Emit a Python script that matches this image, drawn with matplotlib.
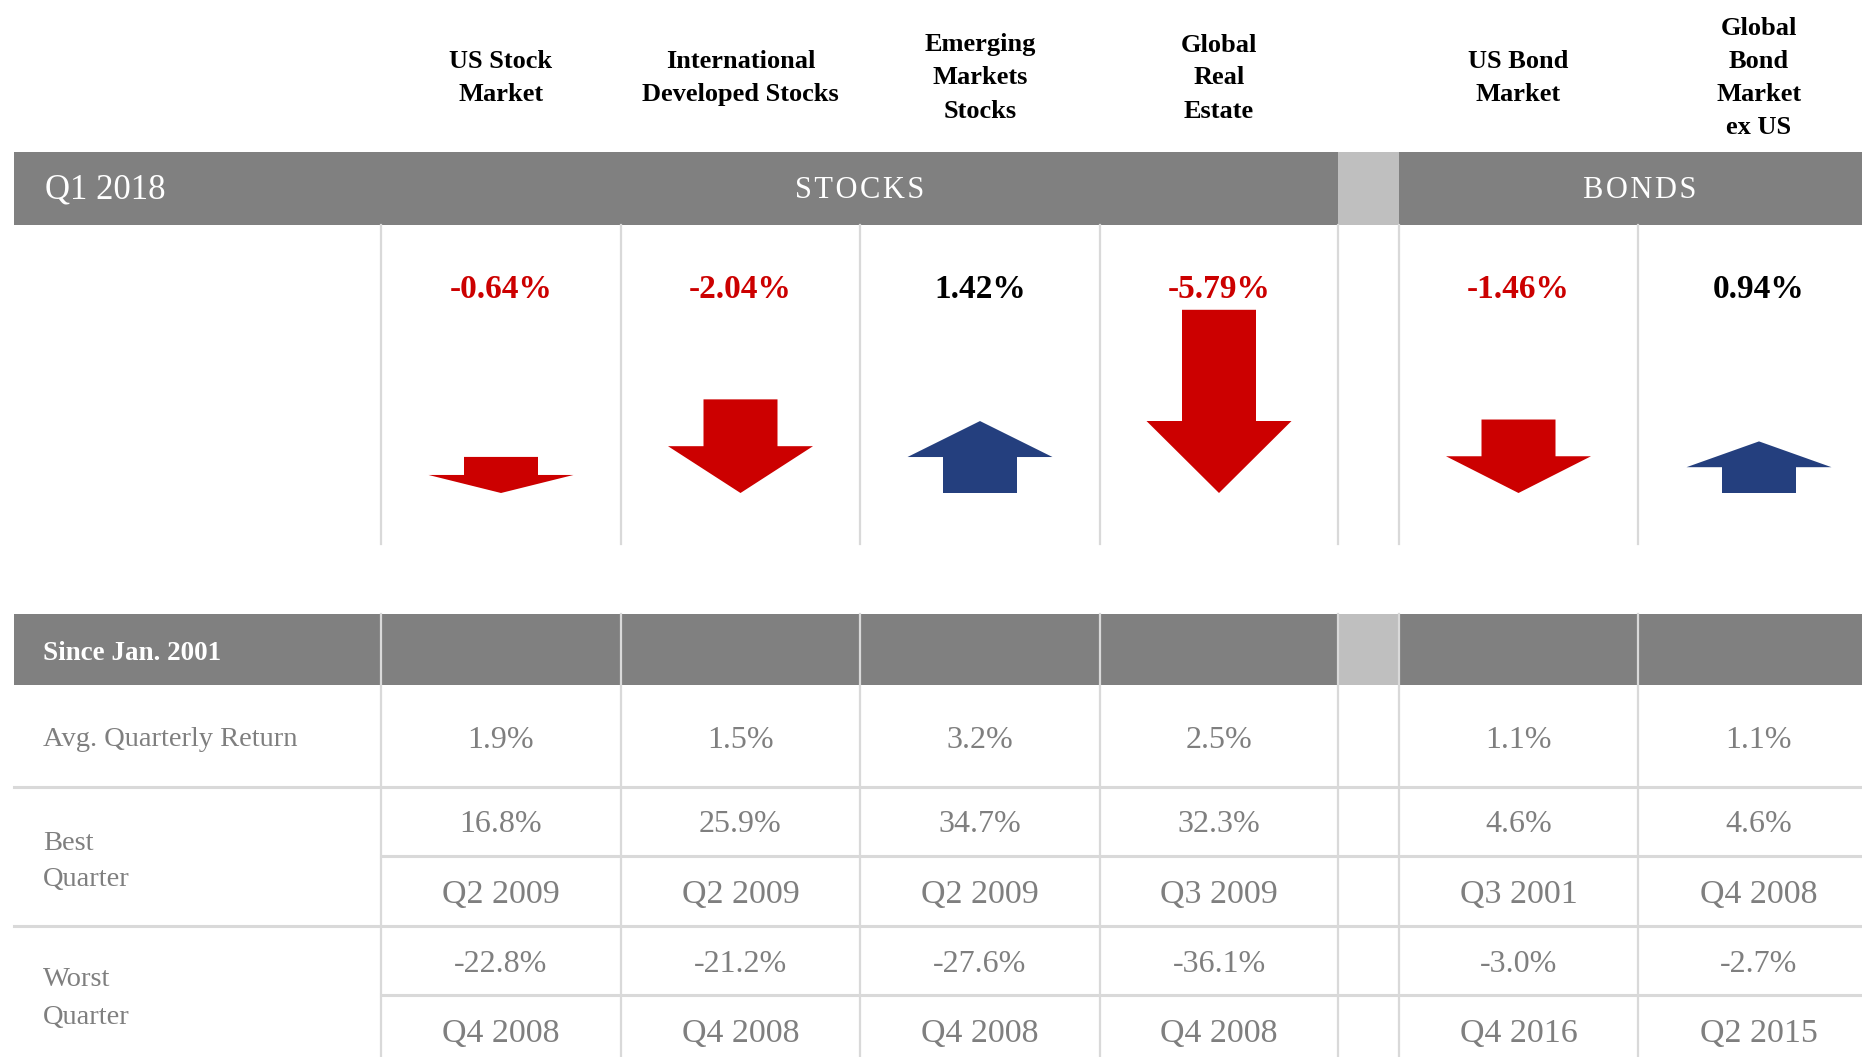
import numpy as np
import matplotlib.pyplot as plt
from matplotlib.patches import Polygon, Rectangle

plt.rcParams['font.family'] = ['Liberation Serif', 'DejaVu Serif']

# data
asset_names = ['US Stock\nMarket', 'International\nDeveloped Stocks', 'Emerging\nMarkets\nStocks',
               'Global\nReal\nEstate', 'US Bond\nMarket', 'Global\nBond\nMarket\nex US']
q1_2018 = [-0.64, -2.04, 1.42, -5.79, -1.46, 0.94]
avg_quarterly = [1.9, 1.5, 3.2, 2.5, 1.1, 1.1]
best_return = [16.8, 25.9, 34.7, 32.3, 4.6, 4.6]
best_quarter = ['Q2 2009', 'Q2 2009', 'Q2 2009', 'Q3 2009', 'Q3 2001', 'Q4 2008']
worst_return = [-22.8, -21.2, -27.6, -36.1, -3.0, -2.7]
worst_quarter = ['Q4 2008', 'Q4 2008', 'Q4 2008', 'Q4 2008', 'Q4 2016', 'Q2 2015']

RED = '#CC0000'
BLUE = '#243F7E'
GRAY = '#808080'
LIGHT = '#BFBFBF'
LINE = '#D9D9D9'
TXT = '#7F7F7F'

W, H = 1862, 1057
fig = plt.figure(figsize=(W / 100, H / 100), dpi=100)
ax = fig.add_axes([0, 0, 1, 1])
ax.set_xlim(0, W)
ax.set_ylim(H, 0)
ax.axis('off')

# layout in pixels
left = 14
edges = [381, 621, 860, 1100, 1338]       # stock columns
gap = (1338, 1399)
bond_edges = [1399, 1638, 1880]
col_l = edges[:-1] + bond_edges[:-1]
col_r = edges[1:] + bond_edges[1:]
centers = [(a + b) / 2 for a, b in zip(col_l, col_r)]
dividers = [381, 621, 860, 1100, 1338, 1399, 1638]
dy = 3  # small nudge so text centres sit like the reference


def txt(x, y, s, **kw):
    ax.text(x, y + dy, s, va='center', **kw)


# column headers
for cx, name in zip(centers, asset_names):
    lines = name.split('\n')
    n = len(lines)
    for i, ln in enumerate(lines):
        y = 75 + (i - (n - 1) / 2) * 33
        txt(cx, y, ln, ha='center', fontsize=19, fontweight='bold', color='black')

# top band
ax.add_patch(Rectangle((left, 152), W - left, 73, color=GRAY, lw=0))
ax.add_patch(Rectangle((gap[0], 152), gap[1] - gap[0], 73, color=LIGHT, lw=0))
txt(45, 187, 'Q1 2018', ha='left', fontsize=25, color='white')
txt((381 + 1338) / 2, 187, 'S T O C K S'.replace(' ', '\u200a'), ha='center', fontsize=22, color='white')
txt((1399 + 1880) / 2, 187, 'B O N D S'.replace(' ', '\u200a'), ha='center', fontsize=22, color='white')

for x in dividers:
    ax.plot([x, x], [225, 544], color=LINE, lw=1.6)

# arrows: length scaled on sqrt of the quarter's return
base_y = 493
head_w, shaft_w = 145, 74


def arrow_len(v):
    return -37.2 + 91.6 * np.sqrt(abs(v))


for cx, v in zip(centers, q1_2018):
    L = arrow_len(v)
    head = min(0.5 * L, 72)
    col = RED if v < 0 else BLUE
    top = base_y - L
    if v < 0:
        pts = [(cx - shaft_w / 2, top), (cx + shaft_w / 2, top), (cx + shaft_w / 2, base_y - head),
               (cx + head_w / 2, base_y - head), (cx, base_y), (cx - head_w / 2, base_y - head),
               (cx - shaft_w / 2, base_y - head)]
    else:
        pts = [(cx - shaft_w / 2, base_y), (cx + shaft_w / 2, base_y), (cx + shaft_w / 2, top + head),
               (cx + head_w / 2, top + head), (cx, top), (cx - head_w / 2, top + head),
               (cx - shaft_w / 2, top + head)]
    ax.add_patch(Polygon(pts, closed=True, color=col, lw=0))
    txt(cx, 286, f'{v:.2f}%', ha='center', fontsize=24, fontweight='bold',
        color=RED if v < 0 else 'black')

# lower table
ax.add_patch(Rectangle((left, 614), W - left, 71, color=GRAY, lw=0))
ax.add_patch(Rectangle((gap[0], 614), gap[1] - gap[0], 71, color=LIGHT, lw=0))
txt(43, 650, 'Since Jan. 2001', ha='left', fontsize=19.5, fontweight='bold', color='white')

for x in dividers:
    ax.plot([x, x], [614, H], color=LINE, lw=1.6)
for y, x0 in [(787, left), (856, 381), (926, left), (995, 381)]:
    ax.plot([x0, W], [y, y], color=LINE, lw=2.2)

txt(43, 737, 'Avg. Quarterly Return', ha='left', fontsize=20.5, color=TXT)
txt(43, 840, 'Best', ha='left', fontsize=20.5, color=TXT)
txt(43, 876, 'Quarter', ha='left', fontsize=20.5, color=TXT)
txt(43, 977, 'Worst', ha='left', fontsize=20.5, color=TXT)
txt(43, 1014, 'Quarter', ha='left', fontsize=20.5, color=TXT)

for cx, a, b, bq, w, wq in zip(centers, avg_quarterly, best_return, best_quarter, worst_return, worst_quarter):
    txt(cx, 737, f'{a:.1f}%', ha='center', fontsize=23, color=TXT)
    txt(cx, 822, f'{b:.1f}%', ha='center', fontsize=23, color=TXT)
    txt(cx, 892, bq, ha='center', fontsize=24.5, color=TXT)
    txt(cx, 961, f'{w:.1f}%', ha='center', fontsize=23, color=TXT)
    txt(cx, 1031, wq, ha='center', fontsize=24.5, color=TXT)

fig.savefig('out.png', dpi=100)
